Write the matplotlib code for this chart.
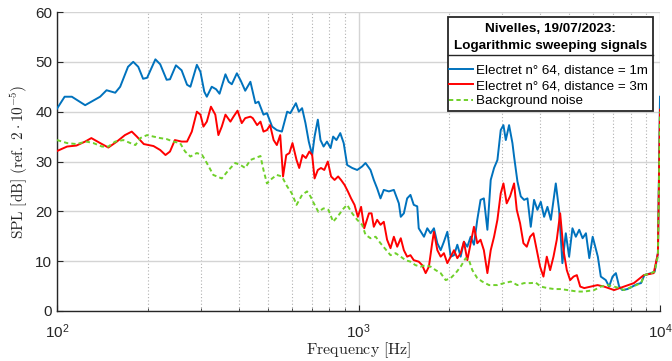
import matplotlib
matplotlib.use("Agg")
import matplotlib.pyplot as plt
from matplotlib.lines import Line2D
from matplotlib.patches import Rectangle
from matplotlib.ticker import LogLocator, FixedLocator, NullFormatter
import numpy as np

plt.rcParams['font.family'] = ['Liberation Sans', 'DejaVu Sans']
plt.rcParams['mathtext.fontset'] = 'custom'
plt.rcParams['mathtext.rm'] = 'Liberation Sans'
plt.rcParams['mathtext.it'] = 'Liberation Sans:italic'
plt.rcParams['mathtext.bf'] = 'Liberation Sans:bold'

# ---------------- data ----------------
blue_f = [100, 106, 112, 124, 139, 146, 156, 162, 172, 179, 186, 193, 199, 212, 220, 231, 237, 248, 259,
          270, 277, 291, 299, 308, 314, 326, 337, 346, 362, 371, 380, 395, 407, 421, 438, 455, 466, 484,
          497, 517, 536, 557, 580, 594, 620, 634, 650, 667, 684, 702, 715, 733, 748, 766, 786, 808, 824,
          845, 870, 893, 917, 953, 990, 1028, 1055, 1096, 1124, 1153, 1183, 1213, 1261, 1310, 1361, 1381,
          1414, 1450, 1487, 1525, 1566, 1584, 1649, 1691, 1734, 1779, 1826, 1873, 1920, 1971, 2022, 2074,
          2127, 2182, 2237, 2296, 2355, 2415, 2477, 2540, 2605, 2676, 2745, 2816, 2889, 2963, 3025, 3080,
          3158, 3240, 3281, 3366, 3453, 3542, 3634, 3727, 3822, 3921, 4023, 4127, 4233, 4345, 4512, 4626,
          4745, 4870, 4995, 5124, 5258, 5396, 5537, 5680, 5828, 5980, 6138, 6220, 6364, 6610, 6780, 6960,
          7140, 7320, 7500, 7800, 8100, 8400, 8652, 8877, 9341, 9600, 9842, 10000]
blue_db = [40.6, 43.0, 43.0, 41.3, 43.0, 44.3, 43.8, 45.0, 49.0, 50.0, 49.0, 46.6, 46.8, 50.5, 49.5, 46.4,
           46.5, 49.3, 48.3, 45.4, 45.0, 49.4, 48.0, 44.0, 43.0, 45.0, 44.5, 43.6, 47.5, 46.0, 45.5, 47.7,
           46.2, 44.2, 46.0, 41.7, 42.0, 39.4, 39.7, 37.0, 36.3, 36.0, 40.0, 39.7, 41.7, 40.0, 40.7, 37.7,
           34.0, 31.3, 35.0, 38.4, 34.3, 33.0, 34.0, 32.7, 35.0, 34.3, 35.7, 33.7, 29.3, 28.7, 28.3, 29.0,
           29.7, 28.3, 26.3, 24.6, 22.6, 24.3, 24.0, 24.3, 21.6, 18.9, 19.6, 22.6, 23.3, 21.3, 21.0, 16.6,
           14.9, 16.6, 15.6, 16.6, 13.6, 12.2, 13.9, 15.9, 10.9, 11.2, 13.3, 10.9, 13.9, 12.9, 14.9, 13.3,
           18.3, 22.3, 22.6, 16.3, 26.3, 28.7, 30.3, 36.3, 37.3, 34.3, 37.3, 33.7, 31.0, 26.0, 23.0, 22.3,
           22.6, 16.9, 22.3, 20.3, 21.9, 18.9, 20.9, 18.3, 25.6, 20.3, 9.6, 15.6, 10.9, 16.6, 14.9, 16.3,
           14.6, 15.6, 10.6, 14.9, 12.2, 10.9, 6.9, 6.2, 4.9, 6.9, 7.6, 4.9, 4.2, 4.4, 4.9, 5.4, 5.6, 7.2,
           7.6, 7.9, 11.6, 43.0]

red_f = [100, 108, 116, 124, 130, 139, 148, 158, 168, 177, 184, 194, 209, 220, 229, 237, 246, 259, 270,
         280, 291, 299, 306, 314, 324, 335, 343, 352, 362, 376, 385, 397, 410, 421, 438, 446, 461, 473,
         484, 497, 509, 523, 536, 550, 562, 576, 590, 604, 623, 636, 652, 669, 687, 702, 715, 733, 751,
         770, 791, 811, 833, 856, 875, 899, 922, 945, 970, 995, 1020, 1045, 1083, 1105, 1124, 1153, 1183,
         1213, 1244, 1277, 1310, 1344, 1381, 1414, 1450, 1487, 1525, 1584, 1626, 1670, 1712, 1755, 1779,
         1826, 1873, 1920, 1971, 2022, 2074, 2127, 2182, 2237, 2296, 2355, 2415, 2477, 2540, 2605, 2676,
         2745, 2816, 2889, 2963, 3025, 3101, 3182, 3281, 3349, 3435, 3524, 3615, 3708, 3803, 3902, 4002,
         4106, 4212, 4321, 4433, 4546, 4665, 4785, 4908, 5035, 5166, 5299, 5437, 5608, 5903, 6204, 6525,
         7044, 7597, 8192, 8836, 9530, 9842, 10000]
red_db = [32.1, 33.0, 33.2, 34.0, 34.7, 33.7, 32.8, 34.0, 35.3, 36.0, 35.0, 33.5, 33.1, 32.3, 31.3, 32.0,
          34.3, 34.0, 34.0, 36.0, 40.0, 39.4, 37.0, 38.0, 41.0, 39.4, 35.3, 37.0, 39.4, 38.0, 39.0, 40.2,
          37.7, 38.7, 39.0, 38.7, 37.3, 38.0, 36.0, 36.3, 37.3, 34.3, 33.3, 35.3, 27.0, 31.3, 31.7, 33.7,
          30.3, 28.7, 31.3, 30.7, 32.0, 31.3, 26.6, 28.3, 28.7, 28.3, 30.0, 27.0, 26.3, 27.0, 26.3, 25.3,
          24.0, 22.6, 21.3, 18.9, 20.9, 16.6, 19.6, 19.6, 16.9, 18.3, 17.3, 17.9, 14.3, 12.6, 14.9, 12.9,
          14.6, 12.2, 10.9, 11.2, 10.2, 9.9, 9.2, 7.6, 8.9, 13.6, 15.9, 12.2, 10.9, 11.6, 9.6, 10.9, 12.2,
          10.6, 11.6, 13.9, 10.2, 13.6, 16.9, 13.6, 14.3, 12.2, 7.6, 12.2, 14.9, 18.3, 23.6, 25.6, 21.6,
          23.0, 25.6, 20.3, 17.6, 13.6, 12.9, 14.9, 15.6, 12.2, 8.9, 6.9, 10.9, 8.2, 10.9, 14.3, 19.6, 12.2,
          8.2, 6.2, 6.9, 7.2, 4.9, 4.6, 4.9, 5.2, 4.9, 4.2, 4.9, 5.6, 7.2, 7.6, 11.6, 40.4]

green_f = [100, 108, 116, 125, 132, 141, 148, 156, 166, 175, 182, 189, 199, 209, 220, 231, 243, 256, 266,
           277, 291, 303, 314, 330, 352, 371, 390, 406, 421, 438, 455, 473, 484, 497, 517, 536, 557, 580,
           601, 623, 650, 675, 693, 711, 736, 766, 795, 824, 861, 893, 917, 953, 990, 1028, 1055, 1096,
           1140, 1183, 1237, 1277, 1327, 1381, 1432, 1487, 1545, 1606, 1670, 1734, 1803, 1873, 1946, 2022,
           2100, 2182, 2267, 2325, 2385, 2477, 2574, 2710, 2889, 3040, 3198, 3366, 3542, 3727, 3870, 4023,
           4233, 4460, 4700, 4932, 5327, 5608, 6048, 6364, 6696, 7044, 7320, 7597, 8192, 8652, 8877, 9341,
           9600, 9842, 10000]
green_db = [34.3, 33.7, 33.5, 34.0, 33.7, 33.0, 33.0, 34.0, 34.3, 33.7, 33.3, 34.7, 35.3, 35.0, 34.7, 34.5,
            34.0, 33.7, 32.0, 31.0, 31.7, 31.3, 29.7, 27.3, 26.6, 28.3, 29.7, 29.3, 28.7, 30.3, 30.7, 31.1,
            28.3, 25.6, 26.6, 27.3, 27.0, 25.0, 23.6, 21.3, 23.3, 24.0, 23.0, 21.6, 19.9, 20.6, 20.3, 17.9,
            19.3, 20.6, 21.3, 19.6, 18.3, 17.3, 15.3, 14.6, 14.9, 13.6, 12.2, 11.2, 11.6, 10.9, 10.2, 9.9,
            9.2, 8.9, 9.2, 8.9, 8.2, 7.6, 6.2, 6.6, 7.6, 8.9, 10.6, 10.2, 8.2, 6.6, 5.9, 5.2, 5.2, 5.6, 5.9,
            5.2, 5.6, 5.6, 5.7, 4.9, 4.6, 4.4, 4.4, 4.2, 3.9, 3.9, 4.2, 4.9, 5.2, 4.9, 4.6, 4.2, 5.0, 5.6,
            7.2, 7.6, 7.9, 11.0, 40.0]

labels = ['Electret n° 64, distance = 1m', 'Electret n° 64, distance = 3m', 'Background noise']
title_lines = ['Nivelles, 19/07/2023:', 'Logarithmic sweeping signals']
xlabel = r'$\mathrm{Frequency\ [Hz]}$'
ylabel = r'$\mathrm{SPL\ [dB]\ (ref.\ 2\cdot 10^{-5})}$'

# ---------------- figure ----------------
W, H = 672, 361
fig = plt.figure(figsize=(W / 100, H / 100), dpi=100)
ax = fig.add_axes([57/W, 50/H, (660-57)/W, (311-12)/H])

def fx(px):
    return px / W

def fy(py):
    return 1 - py / H

c_blue = '#0072BD'
c_red = '#FF0000'
c_green = '#6FD02A'
l1, = ax.plot(blue_f, blue_db, color=c_blue, lw=1.4, zorder=3)
l2, = ax.plot(red_f, red_db, color=c_red, lw=1.4, zorder=4)
l3, = ax.plot(green_f, green_db, color=c_green, lw=1.4, ls=(0, (2.2, 1.6)), zorder=5)

ax.set_xscale('log')
ax.set_xlim(100, 10000)
ax.set_ylim(0, 60)
ax.set_yticks([0, 10, 20, 30, 40, 50, 60])
ax.xaxis.set_major_locator(FixedLocator([100, 1000, 10000]))
ax.xaxis.set_minor_locator(LogLocator(base=10, subs=np.arange(2, 10), numticks=20))
ax.xaxis.set_minor_formatter(NullFormatter())

ax.grid(True, which='major', color='#d4d4d4', lw=1.0, ls='-')
ax.grid(True, which='minor', axis='x', color='#b0b0b0', lw=0.8, ls=(0, (1, 2)))
ax.set_axisbelow(True)

for s in ['top', 'right']:
    ax.spines[s].set_visible(False)
for s in ['left', 'bottom']:
    ax.spines[s].set_color('#262626')
    ax.spines[s].set_linewidth(1.0)

ax.tick_params(which='both', direction='in', colors='#262626', labelsize=11)
ax.tick_params(which='major', length=4)
ax.tick_params(which='minor', length=2.5)
ax.tick_params(axis='x', pad=8)

ax.set_xlabel(xlabel, fontsize=11.5, color='#262626', math_fontfamily='cm', labelpad=-0.5)
ax.set_ylabel(ylabel, fontsize=11, color='#262626', math_fontfamily='cm', labelpad=4)

# ---------------- legend box ----------------
bx0, bx1, by0, by1 = 448, 653, 17, 111
fig.add_artist(Rectangle((fx(bx0), fy(by1)), (bx1 - bx0) / W, (by1 - by0) / H,
                         transform=fig.transFigure, facecolor='white', edgecolor='#262626',
                         lw=1.3, zorder=6))
cx = (bx0 + bx1) / 2
fig.text(fx(cx), fy(29), title_lines[0], ha='center', va='center', fontsize=9.7,
         fontweight='bold', color='black', zorder=8)
fig.text(fx(cx), fy(46.5), title_lines[1], ha='center', va='center', fontsize=9.7,
         fontweight='bold', color='black', zorder=8)
fig.add_artist(Line2D([fx(bx0), fx(bx1)], [fy(55), fy(55)], color='#262626', lw=1.0,
                      transform=fig.transFigure, zorder=8))

leg = fig.legend([l1, l2, l3], labels, loc='upper left', bbox_to_anchor=(fx(bx0 + 0.5), fy(64.5)),
                 bbox_transform=fig.transFigure, frameon=False, fontsize=9.6, borderpad=0,
                 borderaxespad=0, handlelength=1.85, handletextpad=0.2, labelspacing=0.22)
leg.set_zorder(9)

fig.savefig('out.png', dpi=100)
